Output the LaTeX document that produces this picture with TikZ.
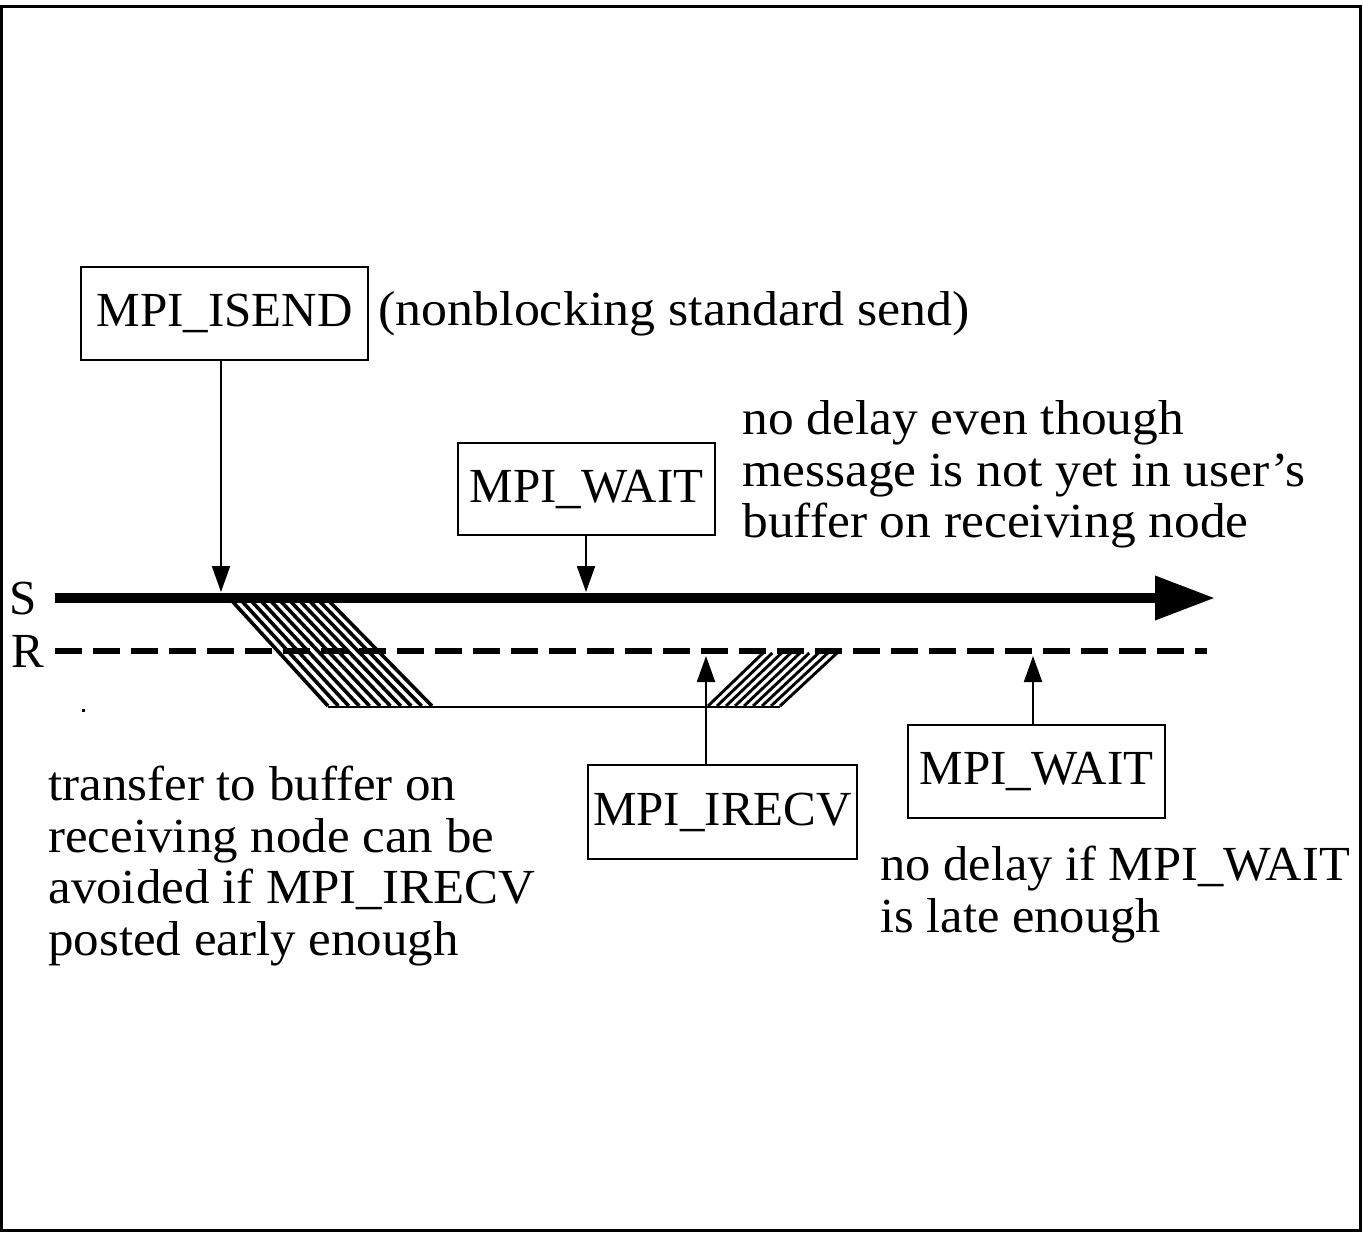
\documentclass[tikz,border=0pt]{standalone}
\usepackage{fontspec}
\setmainfont{Liberation Serif}
\usetikzlibrary{arrows.meta}

\newcommand{\basefont}{\fontsize{24.5}{25.85}\selectfont}
\newcommand{\firstline}{\rule{0pt}{20pt}}

\tikzset{
  callbox/.style={draw, line width=1pt, inner sep=0pt, minimum width=#1},
  note/.style={inner sep=0pt, align=left, anchor=north west,
    font=\basefont\addfontfeatures{FakeStretch=#1}},
  label/.style={inner sep=0pt, anchor=base west},
  pointer/.style={line width=1pt, -{Triangle[length=13pt,width=9pt]}},
  hatch/.style={line width=#1},
  timeline/.style={line width=5pt, -{Triangle[length=30pt,width=21pt]}},
  waitline/.style={line width=3pt, dash pattern=on 13.5pt off 5.5pt}
}

\begin{document}
\begin{tikzpicture}[x=0.5pt, y=-0.5pt, font=\basefont]
  % page and frame
  \useasboundingbox (0,0) rectangle (1363,1236);
  \draw[line width=1.5pt] (1.5,6.5) rectangle (1360.5,1230.5);

  % process time lines
  \coordinate (s0) at (55,598);
  \coordinate (s1) at (1215,598);
  \coordinate (r0) at (55,651);
  \coordinate (r1) at (1207,651);
  \node[label] (slab) at (9,614) {S};
  \node[label] (rlab) at (11,667) {R};

  % transfer bands (drawn first so the lines sit on top)
  \foreach \i in {0,...,10}{
    \draw[hatch=1.8pt] ({233+\i*9.7},602) -- ({328+\i*10.4},706);
  }
  \foreach \i in {0,...,8}{
    \draw[hatch=1.45pt] ({708+\i*9},706) -- ({763+\i*9.25},653);
  }
  \coordinate (b0) at (328,707);
  \coordinate (b1) at (780,707);
  \draw[line width=1pt] (b0) -- (b1);

  \draw[timeline] (s0) -- (s1);
  \draw[waitline] (r0) -- (r1);

  % calls
  \node[callbox=143.5pt, minimum height=46.5pt] (isend) at (224.5,313.5) {MPI\_ISEND};
  \node[callbox=128.5pt, minimum height=46pt] (wait1) at (586.5,489) {MPI\_WAIT};
  \node[callbox=134.5pt, minimum height=47pt] (irecv) at (722.5,812) {MPI\_IRECV};
  \node[callbox=128.5pt, minimum height=46.5pt] (wait2) at (1036.5,771.5) {MPI\_WAIT};

  % arrow targets on the time lines
  \coordinate (isendhit) at (221,592);
  \coordinate (wait1hit) at (586,592);
  \coordinate (irecvhit) at (706,656);
  \coordinate (wait2hit) at (1033,656);

  \draw[pointer] (isend.south -| isendhit) -- (isendhit);
  \draw[pointer] (wait1.south -| wait1hit) -- (wait1hit);
  \draw[pointer] (irecv.north -| irecvhit) -- (irecvhit);
  \draw[pointer] (wait2.north -| wait2hit) -- (wait2hit);

  % annotations
  \node[label, font=\basefont\addfontfeatures{FakeStretch=1.06}] (isendnote) at (378,325) {(nonblocking standard send)};
  \node[note=1.05] (waitnote) at (742,394) {\firstline no delay even though\\message is not yet in user's\\buffer on receiving node};
  \node[note=1.04] (bufnote) at (48,760) {\firstline transfer to buffer on\\receiving node can be\\avoided if MPI\_IRECV\\posted early enough};
  \node[note=1.03] (latenote) at (880,840) {\firstline no delay if MPI\_WAIT\\is late enough};

  % stray mark
  \fill (81.5,708.5) rectangle (84.5,711.5);
\end{tikzpicture}
\end{document}
